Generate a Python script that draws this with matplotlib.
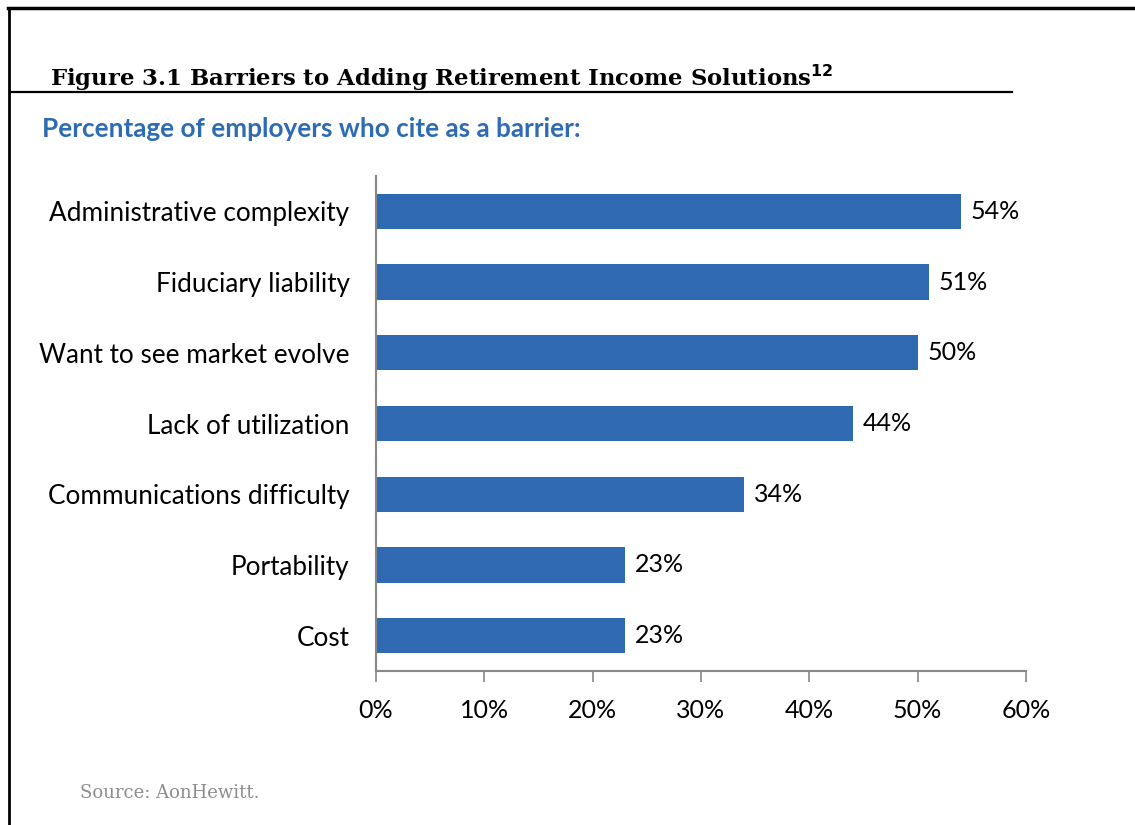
import matplotlib.pyplot as plt
from matplotlib.lines import Line2D

categories = ["Administrative complexity", "Fiduciary liability", "Want to see market evolve",
              "Lack of utilization", "Communications difficulty", "Portability", "Cost"]
values = [54, 51, 50, 44, 34, 23, 23]
xticks = [0, 10, 20, 30, 40, 50, 60]

W, H = 1135, 825
SANS = "Lato"
fig = plt.figure(figsize=(W / 100, H / 100), dpi=100)

# frame lines: top and left border, underline under title
fig.add_artist(Line2D([8 / W, 1], [1 - 8 / H, 1 - 8 / H], color="black", lw=2.5))
fig.add_artist(Line2D([9 / W, 9 / W], [0, 1 - 8 / H], color="black", lw=2))
fig.add_artist(Line2D([10 / W, 1012 / W], [1 - 92 / H, 1 - 92 / H], color="black", lw=1.6))

fig.text(50 / W, 1 - 86 / H, r"Figure 3.1 Barriers to Adding Retirement Income Solutions$^{\mathbf{12}}$",
         fontsize=16.4, fontweight="bold", family="DejaVu Serif", ha="left", va="baseline")
fig.text(42 / W, 1 - 129 / H, "Percentage of employers who cite as a barrier:",
         fontsize=18.8, fontweight="bold", color="#2E6BB5", family=SANS, ha="left", va="center")
fig.text(80 / W, 1 - 793 / H, "Source: AonHewitt.", fontsize=13, color="#8C8C8C",
         family="DejaVu Serif", ha="left", va="center")

ax = fig.add_axes([376 / W, 1 - 671 / H, (1026 - 376) / W, (671 - 176) / H])
y = list(range(len(categories)))
ax.barh(y, values, height=0.5, color="#2E69B1")
ax.set_ylim(len(categories) - 0.5, -0.5)
ax.set_xlim(0, 60)
ax.set_xticks(xticks)
ax.set_xticklabels([f"{t}%" for t in xticks])
ax.set_yticks(y)
ax.set_yticklabels(categories)
for yi, v in zip(y, values):
    ax.text(v + 0.9, yi, f"{v}%", va="center", ha="left", fontsize=18, family=SANS)

for s in ["top", "right"]:
    ax.spines[s].set_visible(False)
for s in ["left", "bottom"]:
    ax.spines[s].set_color("#888888")
    ax.spines[s].set_linewidth(1.5)
ax.tick_params(axis="y", length=0, pad=19, labelsize=18.8)
ax.tick_params(axis="x", length=8, width=1.2, color="#888888", pad=12, labelsize=18)
for lab in ax.get_xticklabels() + ax.get_yticklabels():
    lab.set_family(SANS)

fig.savefig("out.png", dpi=100)
